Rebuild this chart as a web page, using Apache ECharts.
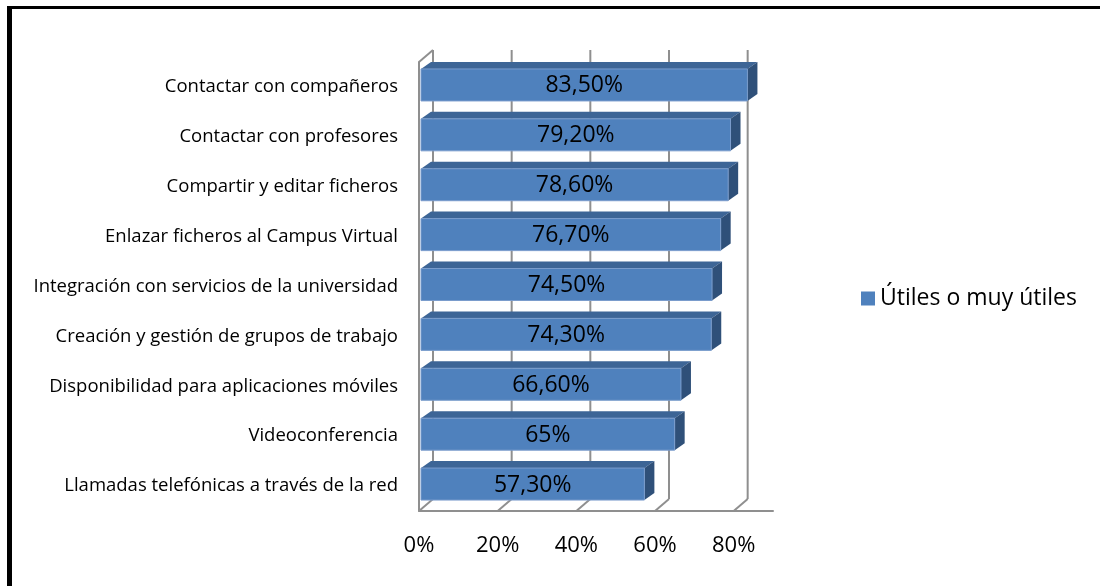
<!DOCTYPE html>
<html>
<head>
<meta charset="utf-8">
<script src="https://cdn.jsdelivr.net/npm/echarts@6/dist/echarts.min.js"></script>
<style>
  html, body { margin: 0; padding: 0; background: #fff; }
  #chart { width: 1100px; height: 586px; }
</style>
</head>
<body>
<div id="chart"></div>
<script>
const categories = [
  'Contactar con compañeros',
  'Contactar con profesores',
  'Compartir y editar ficheros',
  'Enlazar ficheros al Campus Virtual',
  'Integración con servicios de la universidad',
  'Creación y gestión de grupos de trabajo',
  'Disponibilidad para aplicaciones móviles',
  'Videoconferencia',
  'Llamadas telefónicas a través de la red'
];
const values = [83.5, 79.2, 78.6, 76.7, 74.5, 74.3, 66.6, 65, 57.3];
const xTicks = [0, 20, 40, 60, 80];
const seriesName = 'Útiles o muy útiles';

const FONT = "'Open Sans', 'Liberation Sans', sans-serif";
// 3D depth of the walls and of the bars (pixels)
const WALL_DX = 14, WALL_DY = 12;
const BAR_DX = 10, BAR_DY = 7, BAR_H = 32;
const GRID_COLOR = '#8f8f8f';

function fmt(v) {
  return Number.isInteger(v) ? v + '%' : v.toFixed(2).replace('.', ',') + '%';
}

const chart = echarts.init(document.getElementById('chart'));

chart.setOption({
  animation: false,
  backgroundColor: '#fff',
  grid: { left: 419, right: 327, top: 62, bottom: 75, containLabel: false },
  legend: {
    data: [seriesName],
    left: 856, top: 282,
    icon: 'rect', itemWidth: 14, itemHeight: 14, itemGap: 6,
    textStyle: { fontFamily: FONT, fontSize: 23, color: '#000' }
  },
  xAxis: {
    type: 'value', min: 0, max: 90, interval: 20,
    axisLine: { show: true, lineStyle: { color: GRID_COLOR, width: 2 } },
    axisTick: { show: false },
    splitLine: { show: false },
    axisLabel: {
      showMaxLabel: false, margin: 24,
      formatter: '{value}%',
      fontFamily: FONT, fontSize: 22, color: '#000'
    }
  },
  yAxis: {
    type: 'category', inverse: true, data: categories,
    axisLine: { show: true, lineStyle: { color: GRID_COLOR, width: 2 } },
    axisTick: { show: false },
    axisLabel: { margin: 21, fontFamily: FONT, fontSize: 18.5, color: '#000' }
  },
  series: [
    {
      // back wall gridlines, floor ticks and left wall edge
      type: 'custom', name: 'walls', z: 1, silent: true,
      data: xTicks.map(t => [t, 0]),
      encode: { x: 0, y: 1 },
      renderItem(params, api) {
        const cs = params.coordSys;
        const x = api.coord([api.value(0), 0])[0];
        const top = cs.y, bottom = cs.y + cs.height;
        const ls = { stroke: GRID_COLOR, lineWidth: 2 };
        const children = [
          { type: 'line', shape: { x1: x + WALL_DX, y1: top - WALL_DY, x2: x + WALL_DX, y2: bottom - WALL_DY }, style: ls },
          { type: 'line', shape: { x1: x, y1: bottom, x2: x + WALL_DX, y2: bottom - WALL_DY }, style: ls }
        ];
        if (api.value(0) === 0) {
          children.push({ type: 'line', shape: { x1: x, y1: top, x2: x + WALL_DX, y2: top - WALL_DY }, style: ls });
        }
        return { type: 'group', children };
      }
    },
    {
      type: 'custom', name: seriesName, z: 2,
      itemStyle: { color: '#4f81bd' },
      data: values.map((v, i) => [v, i]),
      encode: { x: 0, y: 1 },
      renderItem(params, api) {
        const v = api.value(0), idx = api.value(1);
        const start = api.coord([0, idx]);
        const end = api.coord([v, idx]);
        const x0 = start[0] + 2, x1 = end[0];
        const cy = end[1] - 2;
        const t = cy - BAR_H / 2, b = cy + BAR_H / 2;
        return {
          type: 'group',
          children: [
            { type: 'polygon', shape: { points: [[x0, t], [x1, t], [x1 + BAR_DX, t - BAR_DY], [x0 + BAR_DX, t - BAR_DY]] },
              style: { fill: '#3d6596' } },
            { type: 'polygon', shape: { points: [[x1, t], [x1 + BAR_DX, t - BAR_DY], [x1 + BAR_DX, b - BAR_DY], [x1, b]] },
              style: { fill: '#2f5079' } },
            { type: 'rect', shape: { x: x0, y: t, width: x1 - x0, height: BAR_H },
              style: { fill: '#4f81bd', stroke: '#7a9ccc', lineWidth: 1 } },
            { type: 'text', style: { text: fmt(v), x: (x0 + x1) / 2, y: cy + 1, align: 'center', verticalAlign: 'middle',
              fill: '#000', fontFamily: FONT, fontSize: 23 } }
          ]
        };
      }
    }
  ],
  graphic: [
    { type: 'rect', shape: { x: 7, y: 6, width: 5, height: 580 }, style: { fill: '#000' }, z: 100 },
    { type: 'rect', shape: { x: 7, y: 6, width: 1093, height: 3 }, style: { fill: '#000' }, z: 100 }
  ]
});
</script>
</body>
</html>
